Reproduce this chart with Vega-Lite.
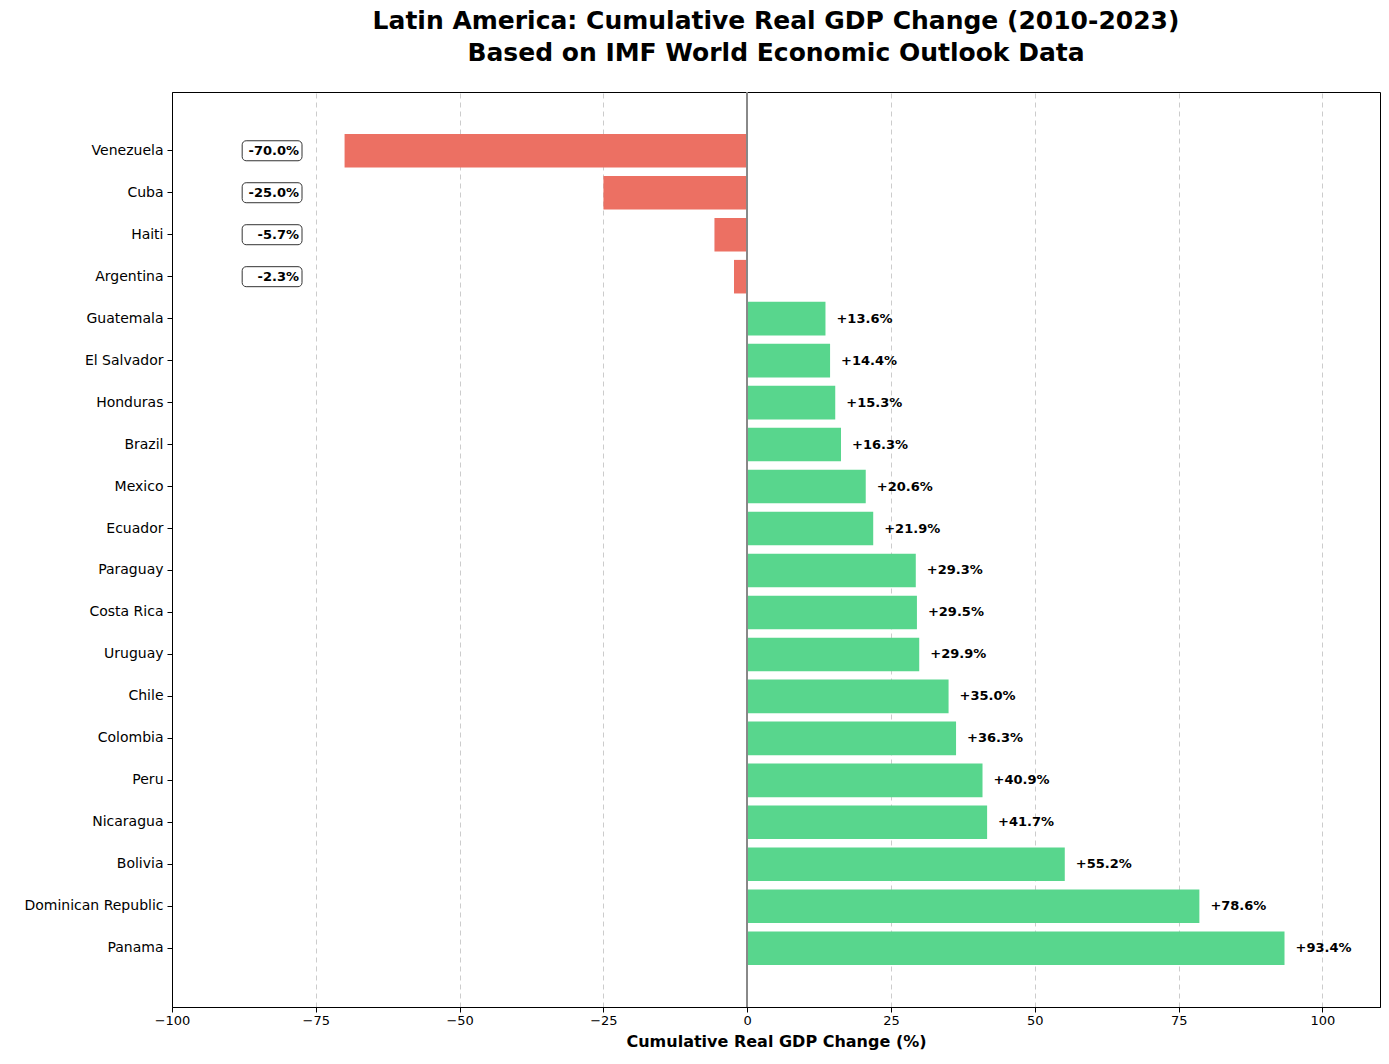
{
  "$schema": "https://vega.github.io/schema/vega-lite/v6.json",
  "width": 1208,
  "height": 915,
  "autosize": "none",
  "padding": {"left": 172, "top": 92, "right": 9, "bottom": 57},
  "background": "white",
  "config": {"font": "DejaVu Sans", "view": {"stroke": "black"}},
  "title": {"text": ["Latin America: Cumulative Real GDP Change (2010-2023)", "Based on IMF World Economic Outlook Data"], "fontSize": 25, "fontWeight": "bold", "color": "black", "offset": 26, "anchor": "middle", "lineHeight": 32},
  "data": {"values": [
    {"country": "Venezuela", "v": -70.0, "label": "-70.0%"},
    {"country": "Cuba", "v": -25.0, "label": "-25.0%"},
    {"country": "Haiti", "v": -5.7, "label": "-5.7%"},
    {"country": "Argentina", "v": -2.3, "label": "-2.3%"},
    {"country": "Guatemala", "v": 13.6, "label": "+13.6%"},
    {"country": "El Salvador", "v": 14.4, "label": "+14.4%"},
    {"country": "Honduras", "v": 15.3, "label": "+15.3%"},
    {"country": "Brazil", "v": 16.3, "label": "+16.3%"},
    {"country": "Mexico", "v": 20.6, "label": "+20.6%"},
    {"country": "Ecuador", "v": 21.9, "label": "+21.9%"},
    {"country": "Paraguay", "v": 29.3, "label": "+29.3%"},
    {"country": "Costa Rica", "v": 29.5, "label": "+29.5%"},
    {"country": "Uruguay", "v": 29.9, "label": "+29.9%"},
    {"country": "Chile", "v": 35.0, "label": "+35.0%"},
    {"country": "Colombia", "v": 36.3, "label": "+36.3%"},
    {"country": "Peru", "v": 40.9, "label": "+40.9%"},
    {"country": "Nicaragua", "v": 41.7, "label": "+41.7%"},
    {"country": "Bolivia", "v": 55.2, "label": "+55.2%"},
    {"country": "Dominican Republic", "v": 78.6, "label": "+78.6%"},
    {"country": "Panama", "v": 93.4, "label": "+93.4%"}
  ]},
  "encoding": {
    "y": {"field": "country", "type": "nominal", "sort": null, "title": null,
      "scale": {"paddingInner": 0.2, "paddingOuter": 1.0},
      "axis": {"labelFontSize": 14, "labelColor": "black", "tickColor": "black", "domainColor": "black", "labelPadding": 4}}
  },
  "layer": [
    {
      "mark": {"type": "bar", "opacity": 1},
      "encoding": {
        "x": {"field": "v", "type": "quantitative", "title": "Cumulative Real GDP Change (%)",
          "scale": {"domain": [-100, 110], "nice": false, "zero": false},
          "axis": {"values": [-100, -75, -50, -25, 0, 25, 50, 75, 100], "grid": true, "gridDash": [5, 4], "gridColor": "#cccccc", "labelFontSize": 13, "labelColor": "black", "tickColor": "black", "domainColor": "black", "titleFontSize": 16, "titleFontWeight": "bold", "titleColor": "black", "titlePadding": 6, "labelFlush": false}},
        "color": {"condition": {"test": "datum.v < 0", "value": "#ec7063"}, "value": "#58d68d"}
      }
    },
    {
      "mark": {"type": "rule", "color": "#888888", "strokeWidth": 1},
      "encoding": {"x": {"datum": 0, "type": "quantitative"}, "y": null}
    },
    {
      "transform": [{"filter": "datum.v < 0"}],
      "mark": {"type": "bar", "size": 20, "fill": "white", "stroke": "#333333", "strokeWidth": 1, "cornerRadius": 4},
      "encoding": {"x": {"datum": -87.8}, "x2": {"datum": -77.4}}
    },
    {
      "transform": [{"filter": "datum.v < 0"}],
      "mark": {"type": "text", "align": "right", "fontWeight": "bold", "fontSize": 13, "color": "black", "dx": -3},
      "encoding": {"x": {"datum": -77.4}, "text": {"field": "label"}}
    },
    {
      "transform": [{"filter": "datum.v >= 0"}],
      "mark": {"type": "text", "align": "left", "fontWeight": "bold", "fontSize": 13, "color": "black", "dx": 11},
      "encoding": {"x": {"field": "v", "type": "quantitative"}, "text": {"field": "label"}}
    }
  ]
}
